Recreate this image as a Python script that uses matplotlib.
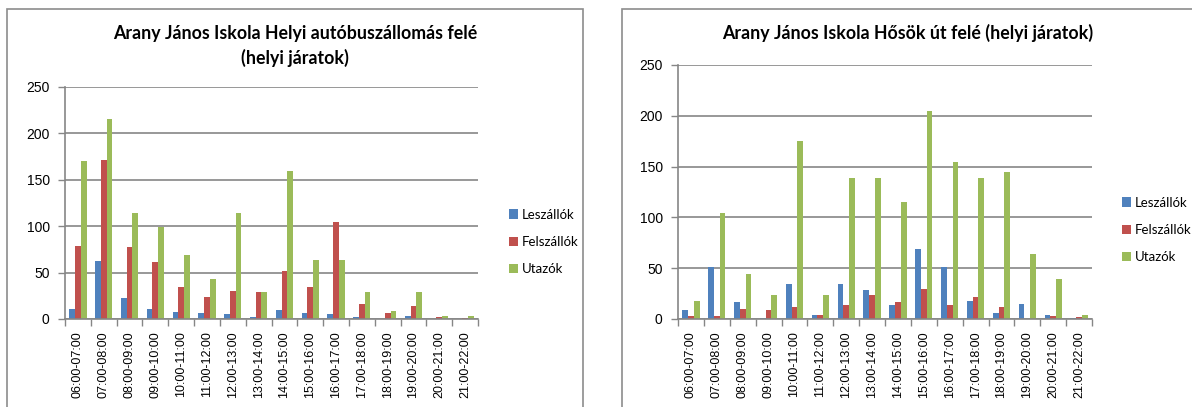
import numpy as np
import matplotlib
matplotlib.use("Agg")
import matplotlib.pyplot as plt
from matplotlib.patches import Rectangle

# Data
hours = ["06:00-07:00", "07:00-08:00", "08:00-09:00", "09:00-10:00",
         "10:00-11:00", "11:00-12:00", "12:00-13:00", "13:00-14:00",
         "14:00-15:00", "15:00-16:00", "16:00-17:00", "17:00-18:00",
         "18:00-19:00", "19:00-20:00", "20:00-21:00", "21:00-22:00"]
series_names = ["Leszállók", "Felszállók", "Utazók"]

left_title = "Arany János Iskola Helyi autóbuszállomás felé\n(helyi járatok)"
left_le = [11, 62, 23, 11, 8, 6, 5, 2, 10, 6, 5, 2, 0, 3, 0, 0]
left_fel = [79, 171, 78, 61, 34, 24, 30, 29, 52, 34, 104, 16, 7, 14, 2, 1]
left_uta = [170, 215, 114, 99, 69, 43, 114, 29, 159, 64, 64, 29, 9, 29, 3, 3]

right_title = "Arany János Iskola Hősök út felé (helyi járatok)"
right_le = [9, 51, 17, 1, 34, 4, 34, 29, 14, 69, 51, 18, 6, 15, 4, 1]
right_fel = [3, 3, 10, 9, 12, 4, 14, 24, 17, 30, 14, 22, 12, 0, 3, 2]
right_uta = [18, 104, 44, 24, 175, 24, 139, 139, 115, 205, 155, 139, 145, 64, 39, 4]

colors = ["#4F81BD", "#C0504D", "#9BBB59"]
grid_col = "#868686"

W, H = 1192, 407
fig = plt.figure(figsize=(W / 100, H / 100), dpi=100)
fig.patch.set_facecolor("white")


def px_axes(x0, x1, ytop, ybot):
    return fig.add_axes([x0 / W, (H - ybot) / H, (x1 - x0) / W, (ybot - ytop) / H])


# chart area borders
fig.patches.append(Rectangle((7 / W, -0.05), (583 - 7) / W, (H - 9) / H + 0.05,
                             transform=fig.transFigure, fill=False,
                             edgecolor="#8C8C8C", lw=1.2))
fig.patches.append(Rectangle((622 / W, -0.05), 0.5, (H - 9) / H + 0.05,
                             transform=fig.transFigure, fill=False,
                             edgecolor="#8C8C8C", lw=1.2))


def draw(ax, vals):
    x = np.arange(len(hours))
    bw = 1 / 4.5
    for i, (v, c, name) in enumerate(zip(vals, colors, series_names)):
        ax.bar(x + (i - 1) * bw, v, width=bw, color=c, label=name, zorder=3)
    ax.set_xlim(-0.5, len(hours) - 0.5)
    ax.set_ylim(0, 250)
    ax.set_yticks([0, 50, 100, 150, 200, 250])
    ax.yaxis.grid(True, color=grid_col, lw=1.2, zorder=0)
    ax.set_xticks(x)
    ax.set_xticklabels(hours, rotation=90, fontsize=9, family="Liberation Sans")
    ax.set_xticks(np.arange(-0.5, len(hours)), minor=True)
    ax.tick_params(axis="x", which="major", length=0, pad=9)
    ax.tick_params(axis="x", which="minor", length=5, color=grid_col, width=1)
    ax.tick_params(axis="y", length=5, color=grid_col, width=1, pad=6,
                   labelsize=10)
    for t in ax.get_yticklabels():
        t.set_family("Liberation Sans")
    for s in ["top", "right"]:
        ax.spines[s].set_visible(False)
    for s in ["left", "bottom"]:
        ax.spines[s].set_color(grid_col)
        ax.spines[s].set_linewidth(1.2)
        ax.spines[s].set_zorder(4)
    return ax


ax1 = draw(px_axes(65, 478, 87, 319), [left_le, left_fel, left_uta])
ax2 = draw(px_axes(678, 1092, 65, 319), [right_le, right_fel, right_uta])

fig.text(295 / W, 1 - 46 / H, left_title, ha="center", va="center",
         fontsize=12.8, fontweight="bold", family="Lato", linespacing=1.5)
fig.text(908 / W, 1 - 33 / H, right_title, ha="center", va="center",
         fontsize=12.8, fontweight="bold", family="Lato")

leg_kw = dict(frameon=False, handlelength=0.75, handleheight=0.75,
              handletextpad=0.25, labelspacing=1.15,
              prop={"family": "Lato", "size": 9.5})
ax1.legend(loc="center left", bbox_to_anchor=(502 / W, 1 - 242 / H),
           bbox_transform=fig.transFigure, borderpad=0, **leg_kw)
ax2.legend(loc="center left", bbox_to_anchor=(1115 / W, 1 - 230 / H),
           bbox_transform=fig.transFigure, borderpad=0, **leg_kw)

fig.savefig("out.png", dpi=100)
